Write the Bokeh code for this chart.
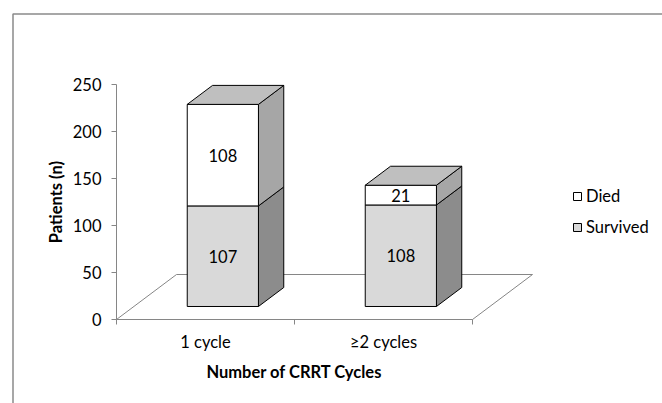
import math
from bokeh.plotting import figure
from bokeh.models import ColumnDataSource, FixedTicker, Range1d, Legend, LegendItem
from bokeh.core.properties import value
from bokeh.embed import file_html
from bokeh.resources import INLINE

# ---- data ----
categories = ["1 cycle", "≥2 cycles"]
survived = [107, 108]
died = [108, 21]
y_ticks = [0, 50, 100, 150, 200, 250]
x_title = "Number of CRRT Cycles"
y_title = "Patients (n)"

FONT = "Lato"
FS = "16.5px"
AX = "#868686"

# ---- layout constants (page pixels) ----
PX0, PY0 = 0, 0          # page position of the figure (template body has no margin)
W, H = 662, 403
OX, OY = 116, 319        # page position of the origin (0 value, first category edge)
PXX = 178.0              # px per category
PXY = 0.94               # px per patient

# 3D projection (depth expressed in data units)
KX = 60 / PXX
KY = 45 / PXY
D0, D1 = 0.289, 0.711
HW = 0.2

def dx(px):  # page x -> data x
    return (px - OX) / PXX

def dy(py):  # page y -> data y
    return (OY - py) / PXY

p = figure(width=W, height=H, output_backend="svg", toolbar_location=None,
           x_range=Range1d(dx(PX0), dx(PX0 + W)), y_range=Range1d(dy(PY0 + H), dy(PY0)),
           min_border_left=0, min_border_right=0, min_border_top=0, min_border_bottom=0)
p.outline_line_color = None
p.xgrid.visible = False
p.ygrid.visible = False
p.background_fill_color = "white"
p.border_fill_color = "white"

# chart-area border (left and top edges visible)
p.line(x=[dx(12.5), dx(12.5), dx(PX0 + W + 5)], y=[dy(PY0 + H + 5), dy(13.5), dy(13.5)],
       line_color="#8a8a8a", line_width=1.5)

# floor
n = len(categories)
p.multi_line(xs=[[0, KX, n + KX, n]], ys=[[0, KY, KY, 0]], line_color=AX, line_width=1)

front_cols = {"Survived": "#d9d9d9", "Died": "#ffffff"}
side_cols = {"Survived": "#8c8c8c", "Died": "#a6a6a6"}
top_col = "#bfbfbf"

front = {"Survived": dict(l=[], r=[], b=[], t=[]), "Died": dict(l=[], r=[], b=[], t=[])}
sides = {"Survived": dict(xs=[], ys=[]), "Died": dict(xs=[], ys=[])}
tops = dict(xs=[], ys=[])
lab = dict(x=[], y=[], t=[])

for i in range(n):
    c = i + 0.5
    segs = [("Survived", 0, survived[i]), ("Died", survived[i], survived[i] + died[i])]
    for name, v0, v1 in segs:
        xl, xr = c - HW + D0 * KX, c + HW + D0 * KX
        front[name]["l"].append(xl); front[name]["r"].append(xr)
        front[name]["b"].append(v0 + D0 * KY); front[name]["t"].append(v1 + D0 * KY)
        xr1 = c + HW + D1 * KX
        sides[name]["xs"].append([xr, xr1, xr1, xr])
        sides[name]["ys"].append([v0 + D0 * KY, v0 + D1 * KY, v1 + D1 * KY, v1 + D0 * KY])
        lab["x"].append(c + D0 * KX)
        lab["y"].append((v0 + v1) / 2 + D0 * KY)
        lab["t"].append(str(v1 - v0))
    vt = survived[i] + died[i]
    xl0, xr0 = c - HW + D0 * KX, c + HW + D0 * KX
    xl1, xr1 = c - HW + D1 * KX, c + HW + D1 * KX
    tops["xs"].append([xl0, xr0, xr1, xl1])
    tops["ys"].append([vt + D0 * KY, vt + D0 * KY, vt + D1 * KY, vt + D1 * KY])

rend = {}
for name in ["Survived", "Died"]:
    p.patches(xs=sides[name]["xs"], ys=sides[name]["ys"], fill_color=side_cols[name],
              line_color="black", line_width=1)
    rend[name] = p.quad(left=front[name]["l"], right=front[name]["r"], bottom=front[name]["b"],
                        top=front[name]["t"], fill_color=front_cols[name], line_color="black", line_width=1)
p.patches(xs=tops["xs"], ys=tops["ys"], fill_color=top_col, line_color="black", line_width=1)

p.text(x="x", y="y", text="t", source=ColumnDataSource(lab), text_align="center",
       text_baseline="middle", text_font=value(FONT), text_font_size=FS, text_color="black")

# axis titles, centred on the axis extents
p.text(x=[n / 2], y=[dy(371)], text=[x_title], text_align="center", text_baseline="middle",
       text_font=value(FONT), text_font_size=FS, text_font_style="bold", text_color="black")
p.text(x=[dx(55)], y=[(y_ticks[0] + y_ticks[-1]) / 2], text=[y_title], angle=math.pi / 2,
       text_align="center", text_baseline="middle",
       text_font=value(FONT), text_font_size=FS, text_font_style="bold", text_color="black")

# y axis
ya = p.yaxis[0]
ya.fixed_location = 0
ya.ticker = FixedTicker(ticks=y_ticks)
ya.bounds = (y_ticks[0], y_ticks[-1])
ya.axis_line_color = AX
ya.major_tick_line_color = AX
ya.major_tick_out = 5
ya.major_tick_in = 0
ya.minor_tick_line_color = None
ya.major_label_text_font = FONT
ya.major_label_text_font_size = FS
ya.major_label_text_color = "black"
ya.major_label_standoff = 10

# x axis
xa = p.xaxis[0]
xa.fixed_location = 0
xa.ticker = FixedTicker(ticks=[i + 0.5 for i in range(n)], minor_ticks=list(range(n + 1)))
xa.major_label_overrides = {i + 0.5: categories[i] for i in range(n)}
xa.bounds = (0, n)
xa.axis_line_color = AX
xa.major_tick_line_color = None
xa.major_tick_out = 0
xa.major_tick_in = 0
xa.minor_tick_line_color = AX
xa.minor_tick_out = 5
xa.minor_tick_in = 0
xa.major_label_text_font = FONT
xa.major_label_text_font_size = FS
xa.major_label_text_color = "black"
xa.major_label_standoff = 7

legend = Legend(items=[LegendItem(label="Died", renderers=[rend["Died"]]),
                       LegendItem(label="Survived", renderers=[rend["Survived"]])],
                location=(572 - PX0, PY0 + H - 237), orientation="vertical",
                glyph_width=10, glyph_height=10, label_height=20, spacing=11,
                label_standoff=4, padding=0, margin=0,
                label_text_font=FONT, label_text_font_size=FS, label_text_color="black",
                background_fill_alpha=0, border_line_color=None)
p.add_layout(legend)

open("out.html", "w").write(file_html(p, INLINE))
